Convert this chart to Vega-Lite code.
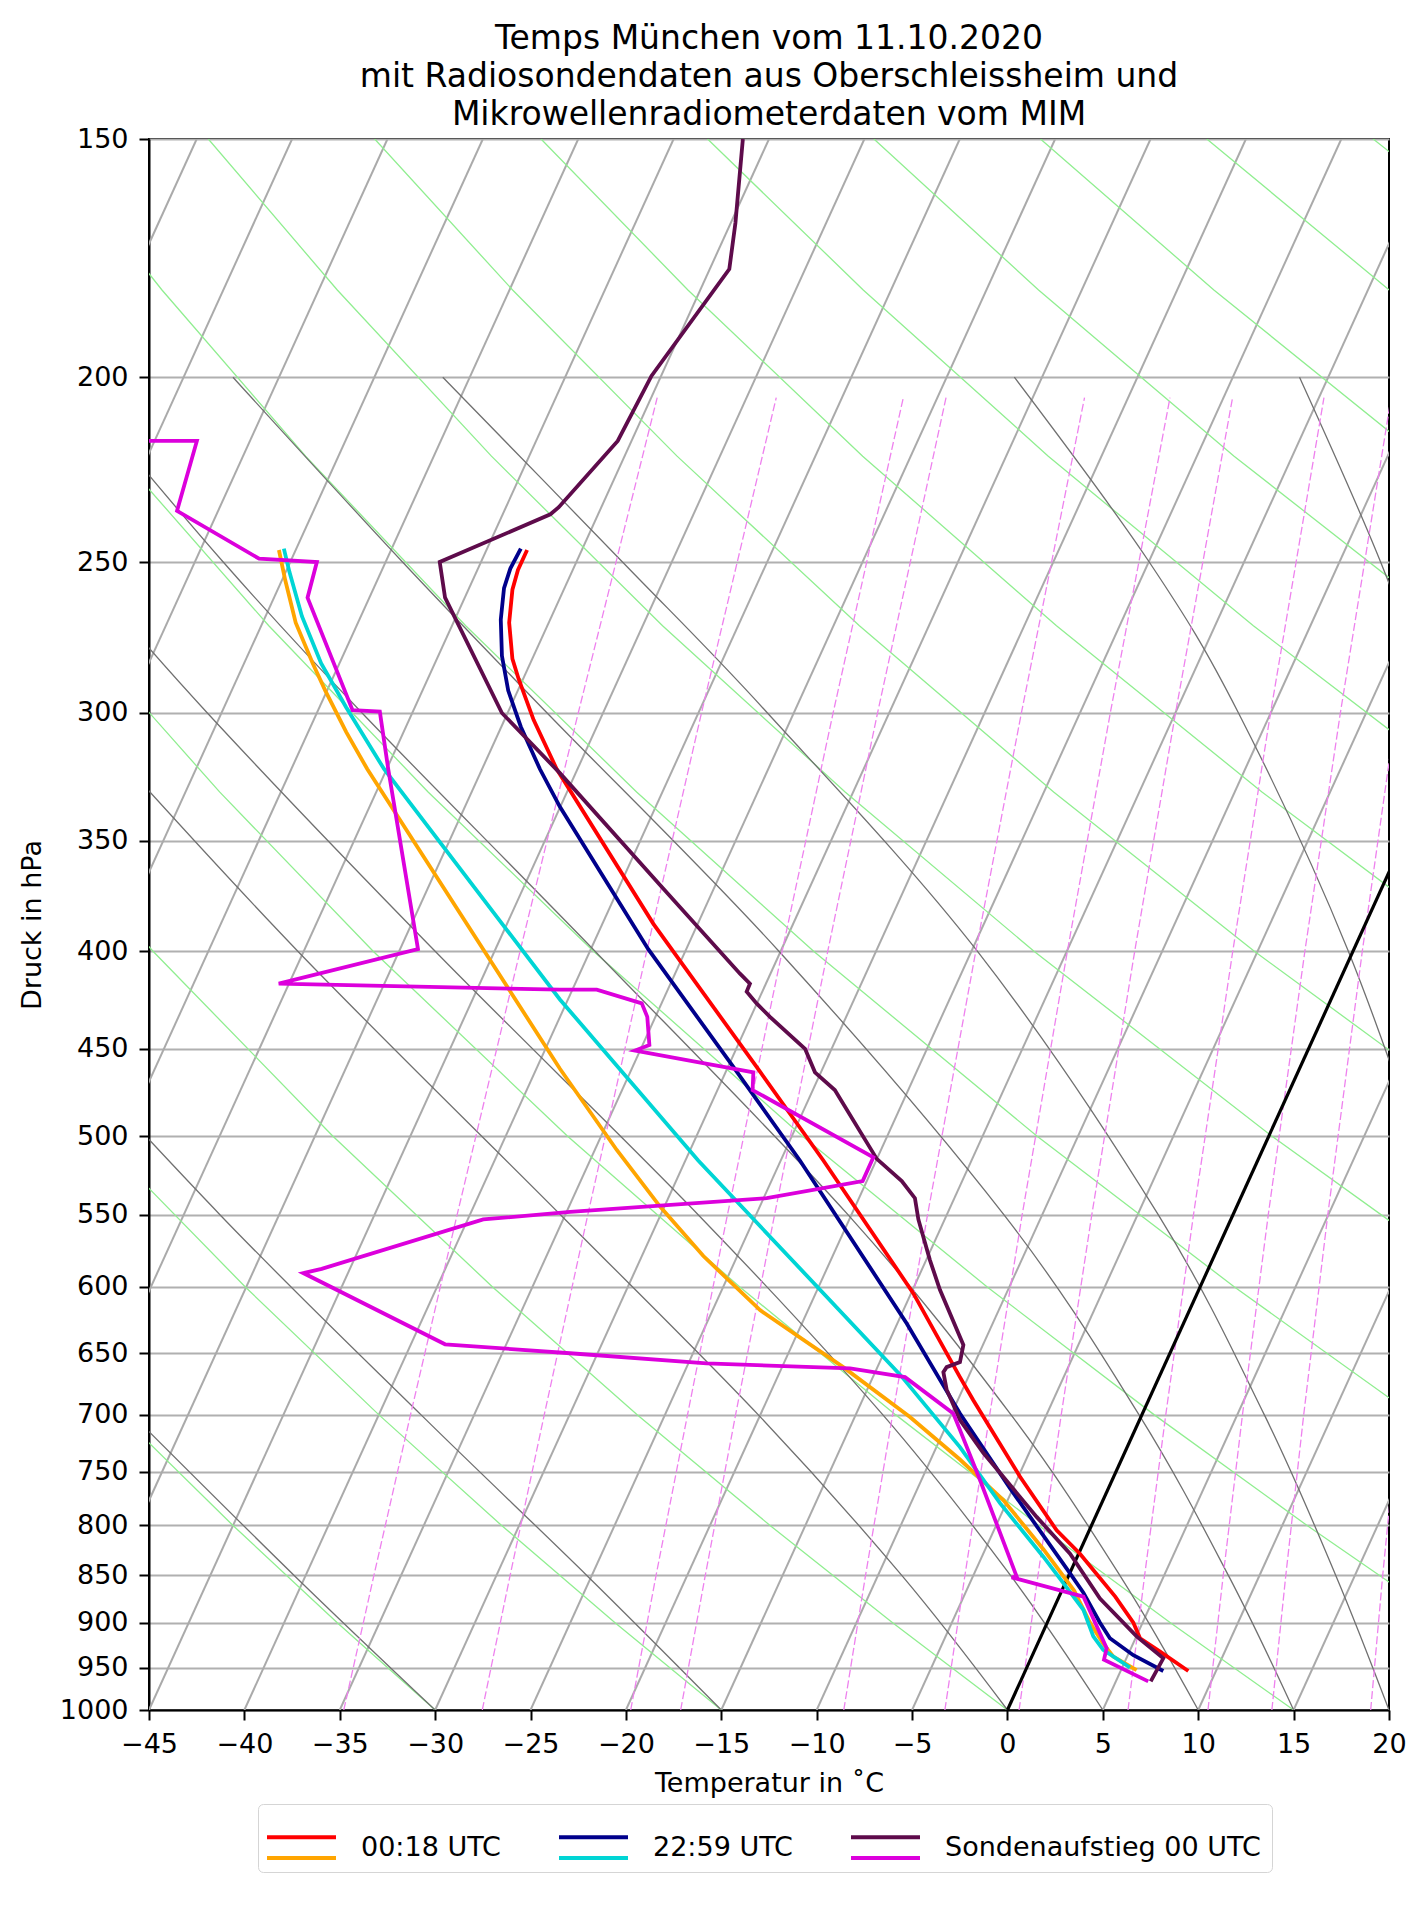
{
  "$schema": "https://vega.github.io/schema/vega-lite/v6.json",
  "description": "Skew-T log-p diagram, Munich 11.10.2020, radiosonde and microwave radiometer profiles.",
  "width": 1240,
  "height": 1571,
  "autosize": {"type": "none"},
  "padding": {"left": 149, "top": 139, "right": 38, "bottom": 197},
  "background": "white",
  "title": {
    "text": ["Temps München vom 11.10.2020", "mit Radiosondendaten aus Oberschleissheim und", "Mikrowellenradiometerdaten vom MIM"],
    "font": "DejaVu Sans",
    "fontSize": 33,
    "fontWeight": "normal",
    "color": "#000",
    "anchor": "middle",
    "frame": "group",
    "lineHeight": 38,
    "baseline": "bottom",
    "offset": 9,
    "dy": 49
  },
  "config": {
    "view": {"stroke": "#000", "strokeWidth": 2},
    "axis": {
      "labelFont": "DejaVu Sans",
      "titleFont": "DejaVu Sans",
      "labelFontSize": 27,
      "titleFontSize": 27,
      "titleFontWeight": "normal",
      "labelColor": "#000",
      "titleColor": "#000",
      "tickColor": "#000",
      "domainColor": "#000",
      "tickSize": 10,
      "tickWidth": 2,
      "domainWidth": 2,
      "labelOverlap": false
    },
    "legend": {"labelFont": "DejaVu Sans"}
  },
  "datasets": {
    "iso": [
      {"id": -80, "x": -80, "p": 1000}, {"id": -80, "x": -42.5, "p": 150},
      {"id": -75, "x": -75, "p": 1000}, {"id": -75, "x": -37.5, "p": 150},
      {"id": -70, "x": -70, "p": 1000}, {"id": -70, "x": -32.5, "p": 150},
      {"id": -65, "x": -65, "p": 1000}, {"id": -65, "x": -27.5, "p": 150},
      {"id": -60, "x": -60, "p": 1000}, {"id": -60, "x": -22.5, "p": 150},
      {"id": -55, "x": -55, "p": 1000}, {"id": -55, "x": -17.5, "p": 150},
      {"id": -50, "x": -50, "p": 1000}, {"id": -50, "x": -12.5, "p": 150},
      {"id": -45, "x": -45, "p": 1000}, {"id": -45, "x": -7.5, "p": 150},
      {"id": -40, "x": -40, "p": 1000}, {"id": -40, "x": -2.5, "p": 150},
      {"id": -35, "x": -35, "p": 1000}, {"id": -35, "x": 2.5, "p": 150},
      {"id": -30, "x": -30, "p": 1000}, {"id": -30, "x": 7.5, "p": 150},
      {"id": -25, "x": -25, "p": 1000}, {"id": -25, "x": 12.5, "p": 150},
      {"id": -20, "x": -20, "p": 1000}, {"id": -20, "x": 17.5, "p": 150},
      {"id": -15, "x": -15, "p": 1000}, {"id": -15, "x": 22.5, "p": 150},
      {"id": -10, "x": -10, "p": 1000}, {"id": -10, "x": 27.5, "p": 150},
      {"id": -5, "x": -5, "p": 1000}, {"id": -5, "x": 32.5, "p": 150},
      {"id": 0, "x": 0, "p": 1000}, {"id": 0, "x": 37.5, "p": 150},
      {"id": 5, "x": 5, "p": 1000}, {"id": 5, "x": 42.5, "p": 150},
      {"id": 10, "x": 10, "p": 1000}, {"id": 10, "x": 47.5, "p": 150},
      {"id": 15, "x": 15, "p": 1000}, {"id": 15, "x": 52.5, "p": 150}
    ],
    "dry": [
      {"id": -30, "x": -30, "p": 1000}, {"id": -30, "x": -35.13, "p": 900}, {"id": -30, "x": -40.61, "p": 800}, {"id": -30, "x": -46.51, "p": 700},
      {"id": -15, "x": -15, "p": 1000}, {"id": -15, "x": -20.57, "p": 900}, {"id": -15, "x": -26.53, "p": 800}, {"id": -15, "x": -32.96, "p": 700}, {"id": -15, "x": -39.95, "p": 600}, {"id": -15, "x": -47.68, "p": 500},
      {"id": 0, "x": 0, "p": 1000}, {"id": 0, "x": -6.02, "p": 900}, {"id": 0, "x": -12.46, "p": 800}, {"id": 0, "x": -19.41, "p": 700}, {"id": 0, "x": -26.99, "p": 600}, {"id": 0, "x": -35.37, "p": 500}, {"id": 0, "x": -44.79, "p": 400}, {"id": 0, "x": -52.23, "p": 330},
      {"id": 15, "x": 15, "p": 1000}, {"id": 15, "x": 8.54, "p": 900}, {"id": 15, "x": 1.62, "p": 800}, {"id": 15, "x": -5.87, "p": 700}, {"id": 15, "x": -14.03, "p": 600}, {"id": 15, "x": -23.07, "p": 500}, {"id": 15, "x": -33.25, "p": 400}, {"id": 15, "x": -41.3, "p": 330}, {"id": 15, "x": -49.03, "p": 270},
      {"id": 30, "x": 30, "p": 1000}, {"id": 30, "x": 23.09, "p": 900}, {"id": 30, "x": 15.69, "p": 800}, {"id": 30, "x": 7.68, "p": 700}, {"id": 30, "x": -1.06, "p": 600}, {"id": 30, "x": -10.76, "p": 500}, {"id": 30, "x": -21.7, "p": 400}, {"id": 30, "x": -30.37, "p": 330}, {"id": 30, "x": -38.72, "p": 270}, {"id": 30, "x": -46.52, "p": 220},
      {"id": 45, "x": 29.76, "p": 800}, {"id": 45, "x": 21.23, "p": 700}, {"id": 45, "x": 11.9, "p": 600}, {"id": 45, "x": 1.54, "p": 500}, {"id": 45, "x": -10.16, "p": 400}, {"id": 45, "x": -19.44, "p": 330}, {"id": 45, "x": -28.4, "p": 270}, {"id": 45, "x": -36.79, "p": 220}, {"id": 45, "x": -44.32, "p": 180}, {"id": 45, "x": -50.61, "p": 150},
      {"id": 60, "x": 34.77, "p": 700}, {"id": 60, "x": 24.86, "p": 600}, {"id": 60, "x": 13.85, "p": 500}, {"id": 60, "x": 1.39, "p": 400}, {"id": 60, "x": -8.51, "p": 330}, {"id": 60, "x": -18.08, "p": 270}, {"id": 60, "x": -27.05, "p": 220}, {"id": 60, "x": -35.13, "p": 180}, {"id": 60, "x": -41.89, "p": 150},
      {"id": 75, "x": 37.83, "p": 600}, {"id": 75, "x": 26.15, "p": 500}, {"id": 75, "x": 12.94, "p": 400}, {"id": 75, "x": 2.42, "p": 330}, {"id": 75, "x": -7.76, "p": 270}, {"id": 75, "x": -17.32, "p": 220}, {"id": 75, "x": -25.94, "p": 180}, {"id": 75, "x": -33.17, "p": 150},
      {"id": 90, "x": 38.46, "p": 500}, {"id": 90, "x": 24.49, "p": 400}, {"id": 90, "x": 13.34, "p": 330}, {"id": 90, "x": 2.57, "p": 270}, {"id": 90, "x": -7.59, "p": 220}, {"id": 90, "x": -16.75, "p": 180}, {"id": 90, "x": -24.45, "p": 150},
      {"id": 105, "x": 36.03, "p": 400}, {"id": 105, "x": 24.27, "p": 330}, {"id": 105, "x": 12.89, "p": 270}, {"id": 105, "x": 2.14, "p": 220}, {"id": 105, "x": -7.56, "p": 180}, {"id": 105, "x": -15.72, "p": 150},
      {"id": 120, "x": 47.58, "p": 400}, {"id": 120, "x": 35.2, "p": 330}, {"id": 120, "x": 23.21, "p": 270}, {"id": 120, "x": 11.88, "p": 220}, {"id": 120, "x": 1.63, "p": 180}, {"id": 120, "x": -7.0, "p": 150},
      {"id": 135, "x": 46.13, "p": 330}, {"id": 135, "x": 33.53, "p": 270}, {"id": 135, "x": 21.61, "p": 220}, {"id": 135, "x": 10.82, "p": 180}, {"id": 135, "x": 1.73, "p": 150},
      {"id": 150, "x": 43.84, "p": 270}, {"id": 150, "x": 31.34, "p": 220}, {"id": 150, "x": 20.01, "p": 180}, {"id": 150, "x": 10.45, "p": 150},
      {"id": 165, "x": 41.08, "p": 220}, {"id": 165, "x": 29.2, "p": 180}, {"id": 165, "x": 19.17, "p": 150}
    ],
    "moist": [
      {"id": -30, "x": -30, "p": 1000}, {"id": -30, "x": -37.39, "p": 850}, {"id": -30, "x": -45.89, "p": 700},
      {"id": -15, "x": -15, "p": 1000}, {"id": -15, "x": -22.05, "p": 850}, {"id": -15, "x": -30.75, "p": 700}, {"id": -15, "x": -41.27, "p": 550}, {"id": -15, "x": -54.1, "p": 400},
      {"id": 0, "x": 0, "p": 1000}, {"id": 0, "x": -5.54, "p": 850}, {"id": 0, "x": -13.07, "p": 700}, {"id": 0, "x": -23.42, "p": 550}, {"id": 0, "x": -37.2, "p": 400}, {"id": 0, "x": -48.7, "p": 300},
      {"id": 5, "x": 5, "p": 1000}, {"id": 5, "x": 0.16, "p": 850}, {"id": 5, "x": -6.54, "p": 700}, {"id": 5, "x": -16.2, "p": 550}, {"id": 5, "x": -30.0, "p": 400}, {"id": 5, "x": -41.94, "p": 300}, {"id": 5, "x": -48.86, "p": 250},
      {"id": 10, "x": 10, "p": 1000}, {"id": 10, "x": 5.89, "p": 850}, {"id": 10, "x": 0.18, "p": 700}, {"id": 10, "x": -8.35, "p": 550}, {"id": 10, "x": -21.62, "p": 400}, {"id": 10, "x": -33.83, "p": 300}, {"id": 10, "x": -41.11, "p": 250}, {"id": 10, "x": -49.3, "p": 200},
      {"id": 15, "x": 15, "p": 1000}, {"id": 15, "x": 11.58, "p": 850}, {"id": 15, "x": 6.89, "p": 700}, {"id": 15, "x": -0.18, "p": 550}, {"id": 15, "x": -11.98, "p": 400}, {"id": 15, "x": -24.13, "p": 300}, {"id": 15, "x": -31.71, "p": 250}, {"id": 15, "x": -40.6, "p": 200},
      {"id": 20, "x": 20, "p": 1000}, {"id": 20, "x": 17.21, "p": 850}, {"id": 20, "x": 13.46, "p": 700}, {"id": 20, "x": 7.91, "p": 550}, {"id": 20, "x": -1.58, "p": 400}, {"id": 20, "x": -12.58, "p": 300}, {"id": 20, "x": -20.18, "p": 250}, {"id": 20, "x": -29.6, "p": 200},
      {"id": 30, "x": 30, "p": 1000}, {"id": 30, "x": 28.18, "p": 850}, {"id": 30, "x": 25.89, "p": 700}, {"id": 30, "x": 22.77, "p": 550}, {"id": 30, "x": 17.87, "p": 400}, {"id": 30, "x": 12.11, "p": 300}, {"id": 30, "x": 7.43, "p": 250}, {"id": 30, "x": 0.36, "p": 200},
      {"id": 35, "x": 26.06, "p": 400}, {"id": 35, "x": 22.39, "p": 300}, {"id": 35, "x": 19.56, "p": 250}, {"id": 35, "x": 15.31, "p": 200}
    ],
    "mix": [
      {"id": 0.2, "x": -34.79, "p": 1000}, {"id": 0.2, "x": -33.21, "p": 850}, {"id": 0.2, "x": -31.29, "p": 700}, {"id": 0.2, "x": -28.85, "p": 550}, {"id": 0.2, "x": -25.55, "p": 400}, {"id": 0.2, "x": -22.5, "p": 300}, {"id": 0.2, "x": -18.36, "p": 205},
      {"id": 0.4, "x": -27.53, "p": 1000}, {"id": 0.4, "x": -26.07, "p": 850}, {"id": 0.4, "x": -24.28, "p": 700}, {"id": 0.4, "x": -22.0, "p": 550}, {"id": 0.4, "x": -18.91, "p": 400}, {"id": 0.4, "x": -16.04, "p": 300}, {"id": 0.4, "x": -12.12, "p": 205},
      {"id": 0.8, "x": -19.75, "p": 1000}, {"id": 0.8, "x": -18.42, "p": 850}, {"id": 0.8, "x": -16.77, "p": 700}, {"id": 0.8, "x": -14.68, "p": 550}, {"id": 0.8, "x": -11.81, "p": 400}, {"id": 0.8, "x": -9.14, "p": 300}, {"id": 0.8, "x": -5.46, "p": 205},
      {"id": 1, "x": -17.13, "p": 1000}, {"id": 1, "x": -15.84, "p": 850}, {"id": 1, "x": -14.25, "p": 700}, {"id": 1, "x": -12.21, "p": 550}, {"id": 1, "x": -9.42, "p": 400}, {"id": 1, "x": -6.81, "p": 300}, {"id": 1, "x": -3.22, "p": 205},
      {"id": 2, "x": -8.58, "p": 1000}, {"id": 2, "x": -7.44, "p": 850}, {"id": 2, "x": -6.02, "p": 700}, {"id": 2, "x": -4.19, "p": 550}, {"id": 2, "x": -1.66, "p": 400}, {"id": 2, "x": 0.73, "p": 300}, {"id": 2, "x": 4.04, "p": 205},
      {"id": 3, "x": -3.28, "p": 1000}, {"id": 3, "x": -2.23, "p": 850}, {"id": 3, "x": -0.93, "p": 700}, {"id": 3, "x": 0.77, "p": 550}, {"id": 3, "x": 3.14, "p": 400}, {"id": 3, "x": 5.39, "p": 300}, {"id": 3, "x": 8.52, "p": 205},
      {"id": 4, "x": 0.61, "p": 1000}, {"id": 4, "x": 1.6, "p": 850}, {"id": 4, "x": 2.82, "p": 700}, {"id": 4, "x": 4.42, "p": 550}, {"id": 4, "x": 6.67, "p": 400}, {"id": 4, "x": 8.81, "p": 300}, {"id": 4, "x": 11.8, "p": 205},
      {"id": 6, "x": 6.32, "p": 1000}, {"id": 6, "x": 7.19, "p": 850}, {"id": 6, "x": 8.3, "p": 700}, {"id": 6, "x": 9.75, "p": 550}, {"id": 6, "x": 11.81, "p": 400}, {"id": 6, "x": 13.79, "p": 300}, {"id": 6, "x": 16.59, "p": 205},
      {"id": 8, "x": 10.51, "p": 1000}, {"id": 8, "x": 11.31, "p": 850}, {"id": 8, "x": 12.32, "p": 700}, {"id": 8, "x": 13.67, "p": 550}, {"id": 8, "x": 15.59, "p": 400}, {"id": 8, "x": 17.45, "p": 300}, {"id": 8, "x": 20.11, "p": 205},
      {"id": 10, "x": 13.86, "p": 1000}, {"id": 10, "x": 14.59, "p": 850}, {"id": 10, "x": 15.53, "p": 700}, {"id": 10, "x": 16.79, "p": 550}, {"id": 10, "x": 18.6, "p": 400}, {"id": 10, "x": 20.37, "p": 300}, {"id": 10, "x": 22.9, "p": 205},
      {"id": 14, "x": 19.04, "p": 1000}, {"id": 14, "x": 19.67, "p": 850}, {"id": 14, "x": 20.5, "p": 700}, {"id": 14, "x": 21.62, "p": 550}
    ],
    "zero": [{"x": 0, "p": 1000}, {"x": 37.5, "p": 150}],
    "prof": [
      {"series": "00:18 UTC", "kind": "T", "x": -25.18, "p": 246.4},
      {"series": "00:18 UTC", "kind": "T", "x": -25.66, "p": 252.4},
      {"series": "00:18 UTC", "kind": "T", "x": -25.95, "p": 258.5},
      {"series": "00:18 UTC", "kind": "T", "x": -26.12, "p": 269},
      {"series": "00:18 UTC", "kind": "T", "x": -25.95, "p": 281},
      {"series": "00:18 UTC", "kind": "T", "x": -25.62, "p": 288},
      {"series": "00:18 UTC", "kind": "T", "x": -24.84, "p": 302.5},
      {"series": "00:18 UTC", "kind": "T", "x": -23.63, "p": 321},
      {"series": "00:18 UTC", "kind": "T", "x": -18.56, "p": 387},
      {"series": "00:18 UTC", "kind": "T", "x": -13.15, "p": 460},
      {"series": "00:18 UTC", "kind": "T", "x": -9.65, "p": 515},
      {"series": "00:18 UTC", "kind": "T", "x": -4.94, "p": 604.5},
      {"series": "00:18 UTC", "kind": "T", "x": -2.49, "p": 669},
      {"series": "00:18 UTC", "kind": "T", "x": -1.79, "p": 688},
      {"series": "00:18 UTC", "kind": "T", "x": 0.66, "p": 754.5},
      {"series": "00:18 UTC", "kind": "T", "x": 2.58, "p": 805},
      {"series": "00:18 UTC", "kind": "T", "x": 3.8, "p": 828},
      {"series": "00:18 UTC", "kind": "T", "x": 5.65, "p": 872},
      {"series": "00:18 UTC", "kind": "T", "x": 6.6, "p": 900},
      {"series": "00:18 UTC", "kind": "T", "x": 6.95, "p": 917},
      {"series": "00:18 UTC", "kind": "T", "x": 8.0, "p": 932},
      {"series": "00:18 UTC", "kind": "T", "x": 9.48, "p": 954},
      {"series": "22:59 UTC", "kind": "T", "x": -25.51, "p": 246},
      {"series": "22:59 UTC", "kind": "T", "x": -26.06, "p": 252},
      {"series": "22:59 UTC", "kind": "T", "x": -26.39, "p": 258},
      {"series": "22:59 UTC", "kind": "T", "x": -26.56, "p": 268},
      {"series": "22:59 UTC", "kind": "T", "x": -26.5, "p": 280},
      {"series": "22:59 UTC", "kind": "T", "x": -26.17, "p": 292},
      {"series": "22:59 UTC", "kind": "T", "x": -25.51, "p": 305},
      {"series": "22:59 UTC", "kind": "T", "x": -24.51, "p": 321},
      {"series": "22:59 UTC", "kind": "T", "x": -23.46, "p": 336},
      {"series": "22:59 UTC", "kind": "T", "x": -18.83, "p": 399},
      {"series": "22:59 UTC", "kind": "T", "x": -14.37, "p": 460},
      {"series": "22:59 UTC", "kind": "T", "x": -10.88, "p": 515},
      {"series": "22:59 UTC", "kind": "T", "x": -5.28, "p": 627},
      {"series": "22:59 UTC", "kind": "T", "x": -2.49, "p": 699},
      {"series": "22:59 UTC", "kind": "T", "x": 0.13, "p": 765},
      {"series": "22:59 UTC", "kind": "T", "x": 3.28, "p": 848},
      {"series": "22:59 UTC", "kind": "T", "x": 3.98, "p": 868},
      {"series": "22:59 UTC", "kind": "T", "x": 4.85, "p": 900},
      {"series": "22:59 UTC", "kind": "T", "x": 5.37, "p": 917},
      {"series": "22:59 UTC", "kind": "T", "x": 6.6, "p": 936},
      {"series": "22:59 UTC", "kind": "T", "x": 8.17, "p": 954},
      {"series": "Sondenaufstieg 00 UTC", "kind": "T", "x": -13.87, "p": 150},
      {"series": "Sondenaufstieg 00 UTC", "kind": "T", "x": -14.26, "p": 166},
      {"series": "Sondenaufstieg 00 UTC", "kind": "T", "x": -14.58, "p": 175.5},
      {"series": "Sondenaufstieg 00 UTC", "kind": "T", "x": -18.66, "p": 199.7},
      {"series": "Sondenaufstieg 00 UTC", "kind": "T", "x": -20.43, "p": 216},
      {"series": "Sondenaufstieg 00 UTC", "kind": "T", "x": -23.52, "p": 234},
      {"series": "Sondenaufstieg 00 UTC", "kind": "T", "x": -23.96, "p": 236},
      {"series": "Sondenaufstieg 00 UTC", "kind": "T", "x": -29.76, "p": 250},
      {"series": "Sondenaufstieg 00 UTC", "kind": "T", "x": -29.48, "p": 261},
      {"series": "Sondenaufstieg 00 UTC", "kind": "T", "x": -26.5, "p": 300},
      {"series": "Sondenaufstieg 00 UTC", "kind": "T", "x": -23.46, "p": 322.6},
      {"series": "Sondenaufstieg 00 UTC", "kind": "T", "x": -18.13, "p": 370},
      {"series": "Sondenaufstieg 00 UTC", "kind": "T", "x": -14.02, "p": 411},
      {"series": "Sondenaufstieg 00 UTC", "kind": "T", "x": -13.5, "p": 416},
      {"series": "Sondenaufstieg 00 UTC", "kind": "T", "x": -13.67, "p": 420},
      {"series": "Sondenaufstieg 00 UTC", "kind": "T", "x": -13.15, "p": 426},
      {"series": "Sondenaufstieg 00 UTC", "kind": "T", "x": -12.45, "p": 433},
      {"series": "Sondenaufstieg 00 UTC", "kind": "T", "x": -10.61, "p": 450},
      {"series": "Sondenaufstieg 00 UTC", "kind": "T", "x": -10.09, "p": 463},
      {"series": "Sondenaufstieg 00 UTC", "kind": "T", "x": -9.05, "p": 473},
      {"series": "Sondenaufstieg 00 UTC", "kind": "T", "x": -6.85, "p": 514},
      {"series": "Sondenaufstieg 00 UTC", "kind": "T", "x": -5.54, "p": 528},
      {"series": "Sondenaufstieg 00 UTC", "kind": "T", "x": -4.85, "p": 539},
      {"series": "Sondenaufstieg 00 UTC", "kind": "T", "x": -4.67, "p": 553},
      {"series": "Sondenaufstieg 00 UTC", "kind": "T", "x": -4.06, "p": 581},
      {"series": "Sondenaufstieg 00 UTC", "kind": "T", "x": -3.54, "p": 602},
      {"series": "Sondenaufstieg 00 UTC", "kind": "T", "x": -2.31, "p": 643.5},
      {"series": "Sondenaufstieg 00 UTC", "kind": "T", "x": -2.49, "p": 657},
      {"series": "Sondenaufstieg 00 UTC", "kind": "T", "x": -3.19, "p": 661},
      {"series": "Sondenaufstieg 00 UTC", "kind": "T", "x": -3.36, "p": 665},
      {"series": "Sondenaufstieg 00 UTC", "kind": "T", "x": -3.19, "p": 679},
      {"series": "Sondenaufstieg 00 UTC", "kind": "T", "x": -2.49, "p": 704.5},
      {"series": "Sondenaufstieg 00 UTC", "kind": "T", "x": -1.27, "p": 733},
      {"series": "Sondenaufstieg 00 UTC", "kind": "T", "x": 1.53, "p": 792},
      {"series": "Sondenaufstieg 00 UTC", "kind": "T", "x": 3.28, "p": 828},
      {"series": "Sondenaufstieg 00 UTC", "kind": "T", "x": 4.85, "p": 874},
      {"series": "Sondenaufstieg 00 UTC", "kind": "T", "x": 6.77, "p": 915},
      {"series": "Sondenaufstieg 00 UTC", "kind": "T", "x": 8.17, "p": 939.5},
      {"series": "Sondenaufstieg 00 UTC", "kind": "T", "x": 7.51, "p": 966},
      {"series": "00:18 UTC", "kind": "Td", "x": -38.19, "p": 246.4},
      {"series": "00:18 UTC", "kind": "Td", "x": -37.86, "p": 255.5},
      {"series": "00:18 UTC", "kind": "Td", "x": -37.31, "p": 269},
      {"series": "00:18 UTC", "kind": "Td", "x": -36.42, "p": 282.5},
      {"series": "00:18 UTC", "kind": "Td", "x": -35.76, "p": 292},
      {"series": "00:18 UTC", "kind": "Td", "x": -34.66, "p": 307},
      {"series": "00:18 UTC", "kind": "Td", "x": -33.56, "p": 321},
      {"series": "00:18 UTC", "kind": "Td", "x": -23.46, "p": 461},
      {"series": "00:18 UTC", "kind": "Td", "x": -20.48, "p": 508.5},
      {"series": "00:18 UTC", "kind": "Td", "x": -18.21, "p": 544.5},
      {"series": "00:18 UTC", "kind": "Td", "x": -15.94, "p": 578},
      {"series": "00:18 UTC", "kind": "Td", "x": -12.97, "p": 617},
      {"series": "00:18 UTC", "kind": "Td", "x": -8.61, "p": 661},
      {"series": "00:18 UTC", "kind": "Td", "x": -5.11, "p": 702},
      {"series": "00:18 UTC", "kind": "Td", "x": -2.49, "p": 739},
      {"series": "00:18 UTC", "kind": "Td", "x": -0.22, "p": 776},
      {"series": "00:18 UTC", "kind": "Td", "x": 1.9, "p": 824},
      {"series": "00:18 UTC", "kind": "Td", "x": 3.5, "p": 866},
      {"series": "00:18 UTC", "kind": "Td", "x": 4.33, "p": 900},
      {"series": "00:18 UTC", "kind": "Td", "x": 5.02, "p": 923},
      {"series": "00:18 UTC", "kind": "Td", "x": 5.55, "p": 937.6},
      {"series": "00:18 UTC", "kind": "Td", "x": 6.77, "p": 953},
      {"series": "22:59 UTC", "kind": "Td", "x": -37.93, "p": 246},
      {"series": "22:59 UTC", "kind": "Td", "x": -37.64, "p": 253},
      {"series": "22:59 UTC", "kind": "Td", "x": -36.98, "p": 267},
      {"series": "22:59 UTC", "kind": "Td", "x": -35.98, "p": 282.5},
      {"series": "22:59 UTC", "kind": "Td", "x": -34.66, "p": 298},
      {"series": "22:59 UTC", "kind": "Td", "x": -32.68, "p": 321},
      {"series": "22:59 UTC", "kind": "Td", "x": -23.46, "p": 424},
      {"series": "22:59 UTC", "kind": "Td", "x": -16.21, "p": 515},
      {"series": "22:59 UTC", "kind": "Td", "x": -5.63, "p": 667},
      {"series": "22:59 UTC", "kind": "Td", "x": -2.49, "p": 728},
      {"series": "22:59 UTC", "kind": "Td", "x": -0.39, "p": 779},
      {"series": "22:59 UTC", "kind": "Td", "x": 1.88, "p": 831},
      {"series": "22:59 UTC", "kind": "Td", "x": 2.93, "p": 858},
      {"series": "22:59 UTC", "kind": "Td", "x": 3.98, "p": 886},
      {"series": "22:59 UTC", "kind": "Td", "x": 4.5, "p": 915},
      {"series": "22:59 UTC", "kind": "Td", "x": 5.02, "p": 930},
      {"series": "22:59 UTC", "kind": "Td", "x": 6.42, "p": 950},
      {"series": "Sondenaufstieg 00 UTC", "kind": "Td", "x": -50, "p": 216},
      {"series": "Sondenaufstieg 00 UTC", "kind": "Td", "x": -42.49, "p": 216},
      {"series": "Sondenaufstieg 00 UTC", "kind": "Td", "x": -43.53, "p": 235},
      {"series": "Sondenaufstieg 00 UTC", "kind": "Td", "x": -39.23, "p": 249},
      {"series": "Sondenaufstieg 00 UTC", "kind": "Td", "x": -36.2, "p": 250},
      {"series": "Sondenaufstieg 00 UTC", "kind": "Td", "x": -36.69, "p": 261},
      {"series": "Sondenaufstieg 00 UTC", "kind": "Td", "x": -34.33, "p": 299},
      {"series": "Sondenaufstieg 00 UTC", "kind": "Td", "x": -32.9, "p": 299.5},
      {"series": "Sondenaufstieg 00 UTC", "kind": "Td", "x": -32.46, "p": 321},
      {"series": "Sondenaufstieg 00 UTC", "kind": "Td", "x": -30.9, "p": 399},
      {"series": "Sondenaufstieg 00 UTC", "kind": "Td", "x": -38.2, "p": 416},
      {"series": "Sondenaufstieg 00 UTC", "kind": "Td", "x": -23.46, "p": 419},
      {"series": "Sondenaufstieg 00 UTC", "kind": "Td", "x": -21.53, "p": 419},
      {"series": "Sondenaufstieg 00 UTC", "kind": "Td", "x": -19.17, "p": 426},
      {"series": "Sondenaufstieg 00 UTC", "kind": "Td", "x": -18.88, "p": 433},
      {"series": "Sondenaufstieg 00 UTC", "kind": "Td", "x": -18.77, "p": 448},
      {"series": "Sondenaufstieg 00 UTC", "kind": "Td", "x": -19.52, "p": 451},
      {"series": "Sondenaufstieg 00 UTC", "kind": "Td", "x": -13.32, "p": 463},
      {"series": "Sondenaufstieg 00 UTC", "kind": "Td", "x": -13.36, "p": 473},
      {"series": "Sondenaufstieg 00 UTC", "kind": "Td", "x": -7.03, "p": 513},
      {"series": "Sondenaufstieg 00 UTC", "kind": "Td", "x": -7.59, "p": 528},
      {"series": "Sondenaufstieg 00 UTC", "kind": "Td", "x": -12.62, "p": 539},
      {"series": "Sondenaufstieg 00 UTC", "kind": "Td", "x": -22.93, "p": 548},
      {"series": "Sondenaufstieg 00 UTC", "kind": "Td", "x": -27.48, "p": 553},
      {"series": "Sondenaufstieg 00 UTC", "kind": "Td", "x": -35.95, "p": 587},
      {"series": "Sondenaufstieg 00 UTC", "kind": "Td", "x": -36.91, "p": 590},
      {"series": "Sondenaufstieg 00 UTC", "kind": "Td", "x": -29.48, "p": 643},
      {"series": "Sondenaufstieg 00 UTC", "kind": "Td", "x": -22.93, "p": 650},
      {"series": "Sondenaufstieg 00 UTC", "kind": "Td", "x": -15.77, "p": 658},
      {"series": "Sondenaufstieg 00 UTC", "kind": "Td", "x": -8.25, "p": 662},
      {"series": "Sondenaufstieg 00 UTC", "kind": "Td", "x": -5.37, "p": 669},
      {"series": "Sondenaufstieg 00 UTC", "kind": "Td", "x": -2.84, "p": 699},
      {"series": "Sondenaufstieg 00 UTC", "kind": "Td", "x": -2.49, "p": 713},
      {"series": "Sondenaufstieg 00 UTC", "kind": "Td", "x": -1.44, "p": 757.5},
      {"series": "Sondenaufstieg 00 UTC", "kind": "Td", "x": 0.48, "p": 851},
      {"series": "Sondenaufstieg 00 UTC", "kind": "Td", "x": 0.22, "p": 852},
      {"series": "Sondenaufstieg 00 UTC", "kind": "Td", "x": 3.98, "p": 872},
      {"series": "Sondenaufstieg 00 UTC", "kind": "Td", "x": 5.2, "p": 928},
      {"series": "Sondenaufstieg 00 UTC", "kind": "Td", "x": 5.06, "p": 941},
      {"series": "Sondenaufstieg 00 UTC", "kind": "Td", "x": 7.38, "p": 966}
    ]
  },
  "encoding": {
    "x": {
      "field": "x",
      "type": "quantitative",
      "title": "Temperatur in ˚C",
      "scale": {"domain": [-45, 20], "nice": false, "zero": false},
      "axis": {
        "values": [-45, -40, -35, -30, -25, -20, -15, -10, -5, 0, 5, 10, 15, 20],
        "grid": false,
        "labelPadding": 11,
        "titlePadding": 13,
        "labelFlush": false
      }
    },
    "y": {
      "field": "p",
      "type": "quantitative",
      "title": "Druck in hPa",
      "scale": {"type": "log", "domain": [150, 1000], "reverse": true, "nice": false},
      "axis": {
        "values": [150, 200, 250, 300, 350, 400, 450, 500, 550, 600, 650, 700, 750, 800, 850, 900, 950, 1000],
        "format": "d",
        "grid": true,
        "gridColor": "#b0b0b0",
        "gridWidth": 2,
        "labelPadding": 11,
        "titlePadding": 13,
        "labelFlush": false
      }
    }
  },
  "layer": [
    {
      "data": {"name": "iso"},
      "mark": {"type": "line", "clip": true, "stroke": "#aaaaaa", "strokeWidth": 2},
      "encoding": {"detail": {"field": "id", "type": "nominal"}, "order": {"value": null}}
    },
    {
      "data": {"name": "dry"},
      "mark": {"type": "line", "clip": true, "stroke": "#90ee90", "strokeWidth": 1.3},
      "encoding": {"detail": {"field": "id", "type": "nominal"}, "order": {"value": null}}
    },
    {
      "data": {"name": "moist"},
      "mark": {"type": "line", "clip": true, "stroke": "#707070", "strokeWidth": 1.3, "interpolate": "cardinal"},
      "encoding": {"detail": {"field": "id", "type": "nominal"}, "order": {"value": null}}
    },
    {
      "data": {"name": "mix"},
      "mark": {"type": "line", "clip": true, "stroke": "#ee82ee", "strokeWidth": 1.3, "strokeDash": [8, 3]},
      "encoding": {"detail": {"field": "id", "type": "nominal"}, "order": {"value": null}}
    },
    {
      "data": {"name": "zero"},
      "mark": {"type": "line", "clip": true, "stroke": "#000000", "strokeWidth": 3.2},
      "encoding": {"order": {"value": null}}
    },
    {
      "data": {"name": "prof"},
      "transform": [{"filter": "datum.kind == 'T'"}],
      "mark": {"type": "line", "clip": true},
      "encoding": {
        "order": {"value": null},
        "strokeWidth": {
          "field": "series",
          "type": "ordinal",
          "scale": {"domain": ["00:18 UTC", "22:59 UTC", "Sondenaufstieg 00 UTC"], "range": [3.8, 3.8, 5.5]},
          "legend": null
        },
        "stroke": {
          "field": "series",
          "type": "nominal",
          "scale": {"domain": ["00:18 UTC", "22:59 UTC", "Sondenaufstieg 00 UTC"], "range": ["#ff0000", "#00008b", "#5e0b4b"]},
          "legend": {
            "orient": "none",
            "legendX": 109,
            "legendY": 1665,
            "direction": "horizontal",
            "title": null,
            "symbolType": "M-1.131,-0.344H1.131",
            "symbolSize": 3721,
            "symbolStrokeWidth": 4,
            "symbolFillColor": "transparent",
            "labelFontSize": 27,
            "labelColor": "#000",
            "labelLimit": 600,
            "labelOffset": 27,
            "columnPadding": 50,
            "padding": 11,
            "strokeColor": "#d5d5d5",
            "fillColor": "#ffffff",
            "cornerRadius": 5
          }
        }
      }
    },
    {
      "data": {"name": "prof"},
      "transform": [{"filter": "datum.kind == 'Td'"}],
      "mark": {"type": "line", "clip": true},
      "encoding": {
        "order": {"value": null},
        "strokeWidth": {
          "field": "series",
          "type": "ordinal",
          "scale": {"domain": ["00:18 UTC", "22:59 UTC", "Sondenaufstieg 00 UTC"], "range": [3.8, 3.8, 5.5]},
          "legend": null
        },
        "stroke": {
          "field": "series",
          "type": "nominal",
          "scale": {"domain": ["00:18 UTC", "22:59 UTC", "Sondenaufstieg 00 UTC"], "range": ["#ffa500", "#00d5d5", "#dc00dc"]},
          "legend": {
            "orient": "none",
            "legendX": 109,
            "legendY": 1665,
            "direction": "horizontal",
            "title": null,
            "symbolType": "M-1.131,0.344H1.131",
            "symbolSize": 3721,
            "symbolStrokeWidth": 4,
            "symbolFillColor": "transparent",
            "labelFontSize": 27,
            "labelColor": "transparent",
            "labelLimit": 600,
            "labelOffset": 27,
            "columnPadding": 50,
            "padding": 11
          }
        }
      }
    }
  ],
  "resolve": {"scale": {"stroke": "independent"}}
}
